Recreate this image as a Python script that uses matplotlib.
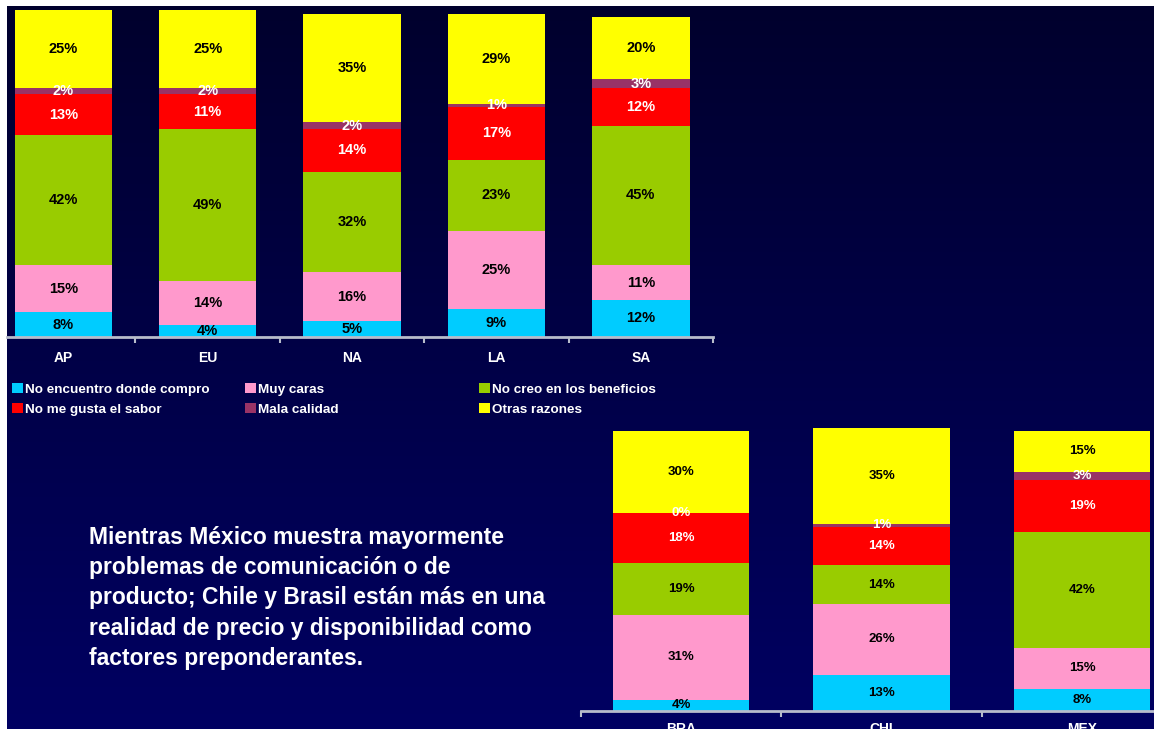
import numpy as np
import matplotlib
matplotlib.use("Agg")
import matplotlib.pyplot as plt
from matplotlib.patches import Patch

# ---- data -------------------------------------------------------------
series_names = ["No encuentro donde compro", "Muy caras", "No creo en los beneficios",
                "No me gusta el sabor", "Mala calidad", "Otras razones"]
series_colors = ["#00CCFF", "#FF99CC", "#99CC00", "#FF0000", "#993366", "#FFFF00"]
label_colors = ["black", "black", "black", "white", "white", "black"]

regions = ["AP", "EU", "NA", "LA", "SA"]
reg_no_encuentro = [8, 4, 5, 9, 12]
reg_muy_caras = [15, 14, 16, 25, 11]
reg_no_creo = [42, 49, 32, 23, 45]
reg_no_gusta = [13, 11, 14, 17, 12]
reg_mala_calidad = [2, 2, 2, 1, 3]
reg_otras = [25, 25, 35, 29, 20]

countries = ["BRA", "CHI", "MEX"]
cty_no_encuentro = [4, 13, 8]
cty_muy_caras = [31, 26, 15]
cty_no_creo = [19, 14, 42]
cty_no_gusta = [18, 14, 19]
cty_mala_calidad = [0, 1, 3]
cty_otras = [30, 35, 15]

summary = ("Mientras México muestra mayormente\n"
           "problemas de comunicación o de\n"
           "producto; Chile y Brasil están más en una\n"
           "realidad de precio y disponibilidad como\n"
           "factores preponderantes.")

# ---- figure -----------------------------------------------------------
W, H = 1154, 729
fig = plt.figure(figsize=(W / 100, H / 100), dpi=100)
fig.patch.set_facecolor("white")


def px_rect(x0, y0, x1, y1):
    """Figure-fraction rectangle from pixel box (top-left origin)."""
    return [x0 / W, 1 - y1 / H, (x1 - x0) / W, (y1 - y0) / H]


# navy gradient backdrop
bg = fig.add_axes(px_rect(7, 6, W, H), zorder=0)
top_c = np.array([0, 0, 45]) / 255
bot_c = np.array([0, 0, 98]) / 255
t = np.linspace(0, 1, 256)[:, None]
grad = (top_c[None, :] * (1 - t) + bot_c[None, :] * t)[:, None, :]
bg.imshow(grad, aspect="auto", extent=[0, 1, 0, 1], interpolation="bilinear")
bg.set_axis_off()

AXIS_GREY = "#B8BCCB"
BOLD = ["Liberation Sans", "DejaVu Sans"]


def stacked(ax, cats, columns, width, fs, family, weight):
    x = np.arange(len(cats))
    bottom = np.zeros(len(cats))
    for vals, col, lc in zip(columns, series_colors, label_colors):
        vals = np.asarray(vals, dtype=float)
        ax.bar(x, vals, width=width, bottom=bottom, color=col, linewidth=0, zorder=2)
        for xi, b, v in zip(x, bottom, vals):
            ax.text(xi, b + v / 2, f"{int(v)}%", ha="center", va="center",
                    color=lc, fontsize=fs, family=family, fontweight=weight, zorder=3)
        bottom += vals
    ax.set_facecolor("none")
    for s in ["top", "right", "left"]:
        ax.spines[s].set_visible(False)
    ax.spines["bottom"].set_color(AXIS_GREY)
    ax.spines["bottom"].set_linewidth(2)
    ax.set_yticks([])
    ax.set_xticks(x)
    ax.set_xticklabels(cats)
    ax.set_xticks(np.arange(len(cats) + 1) - 0.5, minor=True)
    ax.tick_params(axis="x", which="major", length=0, pad=10, colors="white")
    ax.tick_params(axis="x", which="minor", length=4, width=1.5, color=AXIS_GREY, direction="out")
    for lab in ax.get_xticklabels():
        lab.set_fontweight("bold")
        lab.set_family(BOLD)
        lab.set_fontsize(10)
    return ax


# regional chart
ax1 = fig.add_axes(px_rect(7, 6, 713, 337), zorder=1)
stacked(ax1, regions,
        [reg_no_encuentro, reg_muy_caras, reg_no_creo, reg_no_gusta, reg_mala_calidad, reg_otras],
        width=0.675, fs=10.5, family=BOLD, weight="bold")
ax1.set_xlim(-0.39, 4.5)
ax1.set_ylim(0, 331 / 3.11)

# country chart
ax2 = fig.add_axes(px_rect(581, 420, W, 711), zorder=1)
stacked(ax2, countries,
        [cty_no_encuentro, cty_muy_caras, cty_no_creo, cty_no_gusta, cty_mala_calidad, cty_otras],
        width=0.68, fs=9.5, family=["Liberation Sans Narrow", "Liberation Sans", "DejaVu Sans"],
        weight="bold")
ax2.set_xlim(-0.5, (W - 681) / 200.5)
ax2.set_ylim(0, 291 / 2.75)
ax2.tick_params(axis="x", which="major", pad=8)

# legend: three columns of two entries
handles = [Patch(facecolor=c, edgecolor="none") for c in series_colors]
col_groups = [(0, 3), (1, 4), (2, 5)]
col_x = [12, 245, 479]
for (i, j), xp in zip(col_groups, col_x):
    leg = fig.legend([handles[i], handles[j]], [series_names[i], series_names[j]],
                     loc="upper left", bbox_to_anchor=(xp / W, 1 - 383 / H),
                     frameon=False, borderpad=0, borderaxespad=0,
                     handlelength=0.78, handleheight=0.78, handletextpad=0.2,
                     labelspacing=0.55,
                     prop={"family": BOLD, "weight": "bold", "size": 9.7})
    for txt in leg.get_texts():
        txt.set_color("white")
    leg.set_zorder(5)

fig.text(89 / W, 1 - 526 / H, summary, ha="left", va="top", color="white",
         fontsize=16.5, fontweight="bold", family=BOLD, linespacing=1.40, zorder=5)

fig.savefig("out.png", dpi=100, facecolor=fig.get_facecolor())
